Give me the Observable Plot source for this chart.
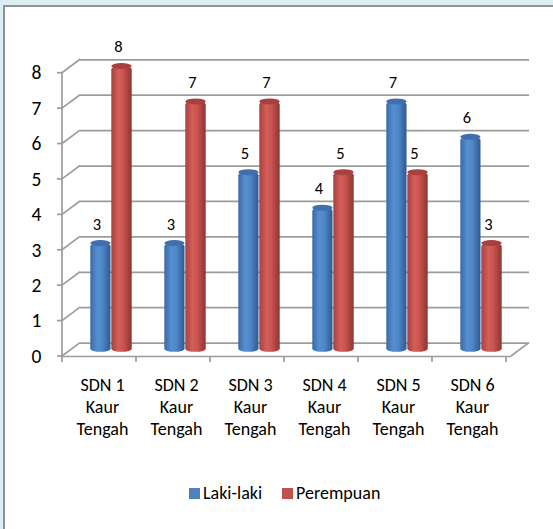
<!DOCTYPE html>
<html>
<head>
<meta charset="utf-8">
<script src="https://cdn.jsdelivr.net/npm/d3@7"></script>
<script src="https://cdn.jsdelivr.net/npm/@observablehq/plot@0.6"></script>
<style>
  html, body { margin: 0; padding: 0; width: 553px; height: 529px; overflow: hidden; background: #dbeef4; }
  #panel { position: absolute; left: 3px; top: 5px; width: 600px; height: 600px; background: #fff;
           border-left: 2px solid #939393; border-top: 2px solid #939393; }
  #chart { position: absolute; left: 0; top: 0; }
  #legend { position: absolute; left: 189px; top: 482px; display: flex; align-items: center;
            font-family: Carlito, Lato, sans-serif; font-size: 18px; color: #000; }
  #legend .sw { width: 11px; height: 11px; display: inline-block; margin-right: 3px; }
  #legend .item { display: flex; align-items: center; margin-right: 20px; }
</style>
</head>
<body>
<div id="panel"></div>
<div id="chart"></div>
<div id="legend"></div>
<script>
// ---- data ----
const schools = ["SDN 1 Kaur Tengah", "SDN 2 Kaur Tengah", "SDN 3 Kaur Tengah",
                 "SDN 4 Kaur Tengah", "SDN 5 Kaur Tengah", "SDN 6 Kaur Tengah"];
const lakiLaki = [3, 3, 5, 4, 7, 6];
const perempuan = [8, 7, 7, 5, 5, 3];
const seriesNames = ["Laki-laki", "Perempuan"];
const yTicks = [0, 1, 2, 3, 4, 5, 6, 7, 8];

// ---- style / layout ----
const BLUE = "#4f81bd", RED = "#c0504d", GRID = "#9c9c9c";
const DX = 18, DY = -13.4;          // depth of the 3D box
const MDX = DX / 2, MDY = DY / 2;   // bars sit at mid depth
const FONT = "Carlito, Lato, sans-serif";

const rowsL = schools.map((s, i) => ({school: s, value: lakiLaki[i], series: seriesNames[0]}));
const rowsP = schools.map((s, i) => ({school: s, value: perempuan[i], series: seriesNames[1]}));
const fmt = s => s.replace(/ (Kaur|Tengah)/g, "\n$1");

const barL = {insetLeft: 16.3, insetRight: 37.5};
const barP = {insetLeft: 37.3, insetRight: 16.3};

const plot = Plot.plot({
  width: 553,
  height: 440,
  marginLeft: 62,
  marginRight: 42,
  marginTop: 72.7,
  marginBottom: 84,
  style: {fontFamily: FONT, background: "transparent", overflow: "visible", color: "#000"},
  x: {type: "band", domain: schools, padding: 0, axis: null},
  y: {domain: [0, 8], axis: null},
  marks: [
    // back wall gridlines
    Plot.ruleY(yTicks, {dx: DX, dy: DY, stroke: GRID, strokeWidth: 1.7}),
    // front floor edge
    Plot.ruleY([0], {stroke: GRID, strokeWidth: 1.7}),
    // y tick labels
    Plot.text(yTicks, {y: d => d, frameAnchor: "left", dx: -21, textAnchor: "end", fontSize: 19.5, fill: "#000"}),
    // bars (cylinders)
    Plot.barY(rowsL, {x: "school", y: "value", fill: "url(#gBlue)", dx: MDX, dy: MDY, ...barL,
                      insetBottom: -2.5, rx: 10.5, ry: 3}),
    Plot.barY(rowsL, {x: "school", y1: "value", y2: "value", fill: "#3f70ad", dx: MDX, dy: MDY, ...barL,
                      insetTop: -3, insetBottom: -3, rx: 10.5, ry: 3}),
    Plot.barY(rowsP, {x: "school", y: "value", fill: "url(#gRed)", dx: MDX, dy: MDY, ...barP,
                      insetBottom: -2.5, rx: 10.5, ry: 3}),
    Plot.barY(rowsP, {x: "school", y1: "value", y2: "value", fill: "#a8413e", dx: MDX, dy: MDY, ...barP,
                      insetTop: -3, insetBottom: -3, rx: 10.5, ry: 3}),
    // value labels
    Plot.text(rowsL, {x: "school", y: "value", text: "value", dx: -5.5, dy: -26, fontSize: 16.5, fill: "#000"}),
    Plot.text(rowsP, {x: "school", y: "value", text: "value", dx: 16, dy: -26, fontSize: 16.5, fill: "#000"}),
    // category labels
    Plot.text(schools, {x: d => d, frameAnchor: "bottom", text: d => fmt(d), lineAnchor: "top",
                        dy: 19, lineHeight: 1.22, fontSize: 18, fill: "#000"})
  ]
});

// gradients + axis frame lines drawn from the plot's own scales
const svg = d3.select(plot);
const defs = svg.insert("defs", ":first-child");
function grad(id, stops) {
  const g = defs.append("linearGradient").attr("id", id).attr("x1", 0).attr("x2", 1).attr("y1", 0).attr("y2", 0);
  stops.forEach(([o, c]) => g.append("stop").attr("offset", o).attr("stop-color", c));
}
grad("gBlue", [[0, "#3a69a6"], [0.35, "#5690d2"], [0.6, "#4f86c6"], [1, "#2f5990"]]);
grad("gRed", [[0, "#a8403d"], [0.35, "#d45e5a"], [0.6, "#c8534f"], [1, "#8e3431"]]);

const xs = plot.scale("x"), ys = plot.scale("y");
const x0 = xs.range[0], x1 = xs.range[1];
const fr = svg.insert("g", "defs + *").attr("stroke", GRID).attr("stroke-width", 1.7).attr("fill", "none");
const y0 = ys.apply(0), yTop = ys.apply(yTicks[yTicks.length - 1]);
fr.append("line").attr("x1", x0).attr("x2", x0).attr("y1", yTop).attr("y2", y0);
for (const t of yTicks) {
  const py = ys.apply(t);
  fr.append("line").attr("x1", x0 - 5).attr("x2", x0).attr("y1", py).attr("y2", py);
  fr.append("line").attr("x1", x0).attr("x2", x0 + DX).attr("y1", py).attr("y2", py + DY);
}
fr.append("line").attr("x1", x1).attr("x2", x1 + DX).attr("y1", y0).attr("y2", y0 + DY);
for (let i = 0; i <= schools.length; i++) {
  const px = x0 + i * xs.step;
  fr.append("line").attr("x1", px).attr("x2", px).attr("y1", y0).attr("y2", y0 + 6);
}

document.getElementById("chart").appendChild(plot);

// legend
const legend = d3.select("#legend");
[[seriesNames[0], BLUE], [seriesNames[1], RED]].forEach(([name, c]) => {
  const it = legend.append("div").attr("class", "item");
  it.append("span").attr("class", "sw").style("background", c);
  it.append("span").text(name);
});
</script>
</body>
</html>
